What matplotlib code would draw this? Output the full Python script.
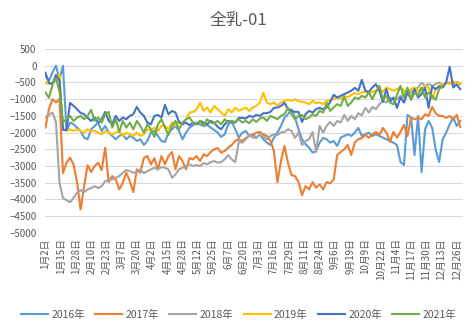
import numpy as np
import pandas as pd
import matplotlib
matplotlib.use("Agg")
import matplotlib.pyplot as plt

plt.rcParams['font.family'] = ['Noto Sans CJK SC', 'DejaVu Sans']

# category axis: trading-style dates (leap year, May 1 and Oct 1-7 missing)
days = pd.date_range("2016-01-02", "2016-12-31")
skip = pd.to_datetime(["2016-05-01"] + [f"2016-10-0{d}" for d in range(1, 8)])
days = days[~days.isin(skip)]
categories = [f"{d.month}月{d.day}日" for d in days]

step = 3  # values below are read every 3rd category

y2016 = [-300, -450, -200, 0, -400, 0, -1950, -1700, -1750, -1850,
         -1950, -2150, -2200, -1900, -1800, -1700, -1950, -1800, -2000, -2100,
         -2200, -2100, -2050, -2200, -2100, -2150, -2250, -2200, -2370, -2250,
         -2000, -1950, -2100, -2250, -2280, -2000, -1900, -1800, -1950, -2200,
         -2000, -1850, -1780, -1700, -1760, -1800, -1770, -1850, -1920, -2000,
         -2130, -2050, -1750, -1680, -1900, -2150, -2000, -1950, -2100, -2050,
         -2160, -2050, -2200, -2300, -2370, -2150, -2000, -1800, -1560, -1450,
         -1300, -1550, -1900, -2200, -2350, -2450, -2600, -2550, -2300, -2160,
         -2200, -2300, -2250, -2400, -2150, -2100, -2050, -2100, -2000, -1860,
         -2100, -2050, -2000, -2100, -2050, -2100, -2150, -2200, -2250, -2300,
         -2370, -2880, -2970, -1470, -1550, -2670, -1500, -3180, -1900, -1650,
         -1850, -2500, -2880, -2200, -2000, -1750, -1560, -1800, -1650]

y2017 = [-1850, -1300, -1000, -1100, -1000, -3210, -2900, -2750, -2950, -3480,
         -4300, -3600, -2970, -3180, -3000, -2900, -3120, -2450, -3480, -3300,
         -3400, -3700, -3500, -3200, -3450, -3780, -3100, -3200, -2760, -2700,
         -2950, -2760, -3100, -2700, -2950, -2700, -2580, -3100, -2700, -2850,
         -3100, -2760, -2800, -2700, -2850, -2650, -2700, -2580, -2500, -2460,
         -2600, -2550, -2450, -2370, -2250, -2200, -2250, -2160, -2100, -2070,
         -2000, -1980, -2050, -2100, -2250, -2550, -3480, -2850, -2400, -2900,
         -3270, -3300, -3480, -3870, -3600, -3700, -3480, -3650, -3550, -3700,
         -3480, -3520, -3400, -2670, -2580, -2500, -2370, -2670, -2300, -2200,
         -2160, -2070, -2150, -2050, -1980, -2070, -1860, -2000, -2280, -1980,
         -2150, -1980, -1770, -2100, -1560, -1600, -1560, -1600, -1450, -1500,
         -1230, -1420, -1500, -1500, -1560, -1500, -1600, -1470, -1830]

y2018 = [-1530, -1470, -1400, -1680, -3500, -3960, -4020, -4080, -3950, -3800,
         -3720, -3780, -3700, -3660, -3600, -3660, -3600, -3450, -3420, -3400,
         -3350, -3300, -3200, -3120, -3150, -3200, -3180, -3100, -3210, -3150,
         -3100, -3050, -3100, -3030, -3050, -3100, -3350, -3250, -3100, -3050,
         -3000, -2950, -3000, -2970, -3000, -2910, -2950, -2880, -2850, -2900,
         -2880, -2800, -2670, -2800, -2880, -2280, -2300, -2200, -2070, -2150,
         -2150, -2070, -2100, -2200, -2100, -2050, -2070, -2000, -1980, -1900,
         -1950, -2160, -2000, -2370, -2250, -2200, -1980, -2580, -1800, -2000,
         -1800, -1680, -1800, -1650, -1700, -1470, -1650, -1500, -1600, -1420,
         -1480, -1260, -1400, -1230, -1300, -1150, -1050, -1100, -960, -1000,
         -1000, -900, -950, -810, -800, -700, -650, -510, -600, -550,
         -600, -550, -500, -600, -520, -500, -550, -480, -550]

y2019 = [-500, -550, -500, -420, -250, -1900, -1950, -1900, -1950, -1900,
         -1950, -2000, -1900, -1950, -1950, -2000, -2050, -1950, -2000, -2050,
         -2000, -1950, -2100, -2000, -2050, -2100, -2000, -2100, -2050, -1900,
         -1950, -1850, -1950, -1800, -1800, -1900, -1700, -1800, -1680, -1750,
         -1600, -1400, -1380, -1300, -1100, -1350, -1250, -1400, -1200, -1300,
         -1400, -1500, -1300, -1400, -1250, -1350, -1300, -1250, -1350, -1250,
         -1200, -1100, -810, -1100, -1150, -1100, -1200, -1100, -1050, -1020,
         -1050, -1000, -1060, -1080, -1100, -1150, -1050, -1120, -1100, -1150,
         -1050, -1020, -1000, -950, -980, -900, -950, -870, -820, -850,
         -800, -780, -830, -780, -750, -700, -780, -650, -700, -750,
         -700, -650, -750, -800, -700, -650, -750, -700, -600, -650,
         -1000, -700, -600, -550, -510, -550, -480, -500, -520]

y2020 = [-210, -510, -550, -270, -450, -1920, -1920, -1110, -1200, -1300,
         -1410, -1450, -1560, -1650, -1550, -1700, -1600, -1380, -1650, -1750,
         -1500, -1650, -1550, -1600, -1500, -1450, -1230, -1400, -1500, -1700,
         -1750, -1500, -1470, -1550, -1170, -1450, -1350, -1400, -1680, -1750,
         -1700, -1780, -1700, -1750, -1650, -1700, -1750, -1650, -1700, -1830,
         -1900, -1750, -1650, -1680, -1700, -1560, -1560, -1580, -1500, -1530,
         -1470, -1500, -1420, -1420, -1380, -1260, -1250, -1200, -1110, -1300,
         -1350, -1380, -1380, -1680, -1450, -1350, -1400, -1300, -1260, -1300,
         -1250, -1080, -870, -950, -900, -850, -800, -750, -660, -750,
         -420, -750, -780, -650, -550, -750, -1080, -700, -1080, -950,
         -1260, -950, -1100, -800, -1000, -700, -950, -850, -660, -1260,
         -620, -700, -620, -650, -500, -30, -650, -560, -700]

y2021 = [-800, -960, -570, -360, -780, -1680, -1600, -1500, -1650, -1550,
         -1500, -1600, -1500, -1320, -1650, -1550, -1700, -1450, -1380, -1850,
         -1600, -1980, -1650, -1850, -1700, -1900, -1650, -1800, -2000, -1750,
         -1900, -2130, -1750, -1600, -1850, -2070, -1800, -1650, -1900, -1700,
         -1600, -1550, -1700, -1750, -1650, -1800, -1600, -1700, -1720, -1650,
         -1750, -1600, -1700, -1650, -1680, -1600, -1700, -1650, -1720, -1600,
         -1680, -1580, -1550, -1650, -1500, -1550, -1600, -1500, -1450, -1260,
         -1450, -1600, -1500, -1470, -1600, -1550, -1450, -1500, -1350, -1400,
         -1110, -1350, -1250, -1150, -1200, -930, -1200, -1100, -950, -1000,
         -900, -950, -800, -1000, -780, -600, -1000, -900, -1100, -1150,
         -870, -600, -950, -650, -1020, -800, -900, -650, -950, -800,
         -900, -1020, -700, -600]

series = [("2016年", y2016, "#5B9BD5"), ("2017年", y2017, "#ED7D31"),
          ("2018年", y2018, "#A5A5A5"), ("2019年", y2019, "#FFC000"),
          ("2020年", y2020, "#4472C4"), ("2021年", y2021, "#70AD47")]

fig = plt.figure(figsize=(4.77, 3.29), dpi=100)
ax = fig.add_axes([0.094, 0.292, 0.877, 0.559])

for name, vals, col in series:
    xs = np.arange(len(vals)) * step
    ax.plot(xs, vals, color=col, lw=1.5, label=name)

ax.set_xlim(-0.5, len(categories) - 0.5)
ax.set_ylim(-5000, 500)
ax.set_yticks(np.arange(-5000, 501, 500))
ax.grid(axis='y', color='#D9D9D9', lw=0.75)
ax.set_axisbelow(True)
ticks = np.arange(0, len(categories), 13)
ax.set_xticks(ticks)
ax.set_xticklabels([categories[i] for i in ticks], rotation=90)
ax.tick_params(axis='both', length=0, labelsize=7, colors='#595959')
ax.tick_params(axis='y', pad=6)
ax.tick_params(axis='x', pad=4)
for s in ax.spines.values():
    s.set_visible(False)

fig.text(0.5, 1 - 20 / 329, "全乳-01", ha='center', va='center',
         fontsize=12, color='#595959')
fig.legend(loc='lower center', bbox_to_anchor=(0.5, 0.0), ncol=6,
           frameon=False, fontsize=7.5, handlelength=2.6, handletextpad=0.3,
           columnspacing=1.0, labelcolor='#595959')

fig.savefig("out.png", dpi=100)
